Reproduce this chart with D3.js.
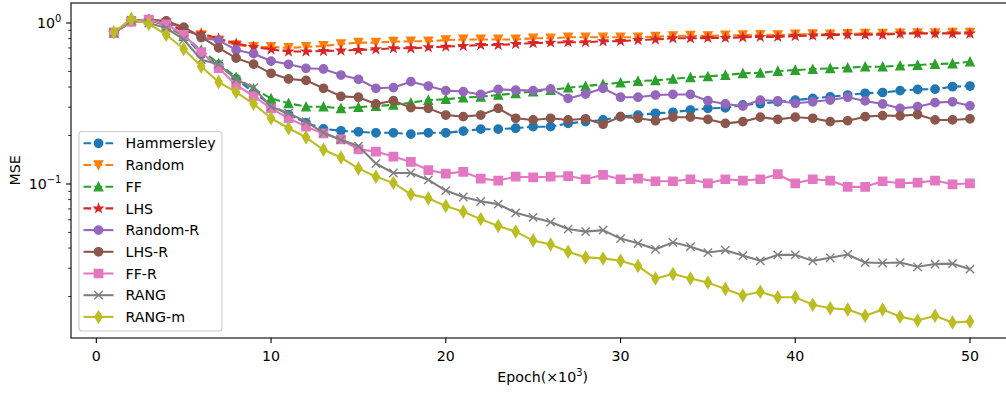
<!DOCTYPE html>
<html>
<head>
<meta charset="utf-8">
<script src="https://cdn.jsdelivr.net/npm/d3@7"></script>
<style>
  html, body { margin: 0; padding: 0; background: #fff; }
  svg { display: block; font-family: "DejaVu Sans", sans-serif; }
</style>
</head>
<body>
<svg id="chart" width="1006" height="393"></svg>
<script>
// Training epochs (×10^3)
const epochs = [1,2,3,4,5,6,7,8,9,10,11,12,13,14,15,16,17,18,19,20,
  21,22,23,24,25,26,27,28,29,30,31,32,33,34,35,36,37,38,39,40,
  41,42,43,44,45,46,47,48,49,50];

// MSE per sampling strategy
const hammersley = [0.87,1.03,1.05,0.97,0.84,0.64,0.55,0.45,0.37,0.31,
  0.27,0.24,0.22,0.214,0.211,0.208,0.208,0.204,0.208,0.208,
  0.213,0.219,0.219,0.222,0.227,0.227,0.238,0.244,0.25,0.262,
  0.268,0.275,0.279,0.288,0.295,0.297,0.31,0.315,0.324,0.332,
  0.34,0.348,0.357,0.366,0.37,0.38,0.387,0.388,0.402,0.406];
const random = [0.87,1.02,1.04,1.0,0.9,0.84,0.78,0.73,0.71,0.71,
  0.70,0.71,0.72,0.74,0.755,0.755,0.766,0.77,0.77,0.784,
  0.79,0.79,0.79,0.79,0.803,0.803,0.815,0.815,0.815,0.815,
  0.815,0.822,0.83,0.835,0.83,0.838,0.84,0.845,0.842,0.85,
  0.852,0.85,0.855,0.86,0.858,0.862,0.865,0.864,0.87,0.872];
const ff = [0.87,1.04,1.05,0.96,0.83,0.68,0.56,0.46,0.39,0.34,
  0.317,0.302,0.302,0.295,0.3,0.305,0.31,0.32,0.332,0.336,
  0.344,0.348,0.357,0.366,0.375,0.383,0.396,0.406,0.416,0.426,
  0.436,0.44,0.449,0.46,0.466,0.475,0.487,0.49,0.503,0.51,
  0.517,0.523,0.528,0.535,0.535,0.543,0.548,0.556,0.56,0.575];
const lhs = [0.87,1.02,1.03,1.0,0.89,0.86,0.80,0.745,0.71,0.685,
  0.665,0.665,0.67,0.675,0.68,0.686,0.696,0.696,0.706,0.713,
  0.72,0.73,0.73,0.74,0.75,0.755,0.76,0.76,0.77,0.772,
  0.784,0.79,0.803,0.803,0.808,0.808,0.815,0.82,0.82,0.83,
  0.836,0.842,0.845,0.845,0.845,0.86,0.86,0.86,0.86,0.86];
const randomR = [0.87,1.02,1.05,1.0,0.94,0.81,0.78,0.68,0.645,0.58,
  0.554,0.523,0.518,0.475,0.447,0.393,0.397,0.432,0.406,0.38,
  0.375,0.36,0.387,0.383,0.38,0.39,0.34,0.362,0.393,0.346,
  0.346,0.357,0.36,0.36,0.329,0.314,0.305,0.332,0.328,0.317,
  0.324,0.332,0.346,0.328,0.314,0.295,0.302,0.32,0.324,0.306];
const lhsR = [0.87,1.02,1.05,1.03,0.94,0.82,0.70,0.605,0.555,0.487,
  0.449,0.44,0.393,0.35,0.346,0.314,0.329,0.298,0.295,0.268,
  0.262,0.268,0.295,0.256,0.25,0.256,0.25,0.254,0.235,0.262,
  0.256,0.247,0.26,0.26,0.252,0.238,0.244,0.26,0.252,0.26,
  0.256,0.244,0.247,0.262,0.266,0.265,0.27,0.25,0.25,0.254];
const ffR = [0.87,1.02,1.05,0.98,0.845,0.66,0.525,0.412,0.352,0.295,
  0.256,0.227,0.206,0.189,0.164,0.159,0.148,0.137,0.122,0.116,
  0.119,0.108,0.105,0.111,0.11,0.111,0.112,0.107,0.114,0.107,
  0.108,0.104,0.104,0.107,0.101,0.107,0.105,0.107,0.115,0.101,
  0.107,0.105,0.096,0.096,0.104,0.101,0.102,0.105,0.0996,0.101];
const rang = [0.87,1.04,1.0,0.93,0.79,0.592,0.555,0.445,0.396,0.302,
  0.275,0.244,0.208,0.188,0.172,0.134,0.117,0.117,0.106,0.091,
  0.083,0.078,0.075,0.0662,0.062,0.058,0.0525,0.0506,0.0517,0.0458,
  0.0428,0.0393,0.0434,0.0408,0.0375,0.0388,0.0359,0.0333,0.0363,0.0363,
  0.0333,0.0348,0.0365,0.0325,0.0323,0.0325,0.0306,0.0318,0.032,0.0296];
const rangM = [0.875,1.06,0.99,0.845,0.69,0.537,0.43,0.372,0.315,0.256,
  0.222,0.195,0.163,0.146,0.125,0.111,0.1016,0.0862,0.0815,0.0729,
  0.0672,0.0605,0.0548,0.0506,0.0445,0.0421,0.0379,0.035,0.0345,0.0334,
  0.0309,0.0259,0.0276,0.0259,0.0244,0.0223,0.0203,0.0214,0.0198,0.0198,
  0.0178,0.0169,0.0166,0.0152,0.0166,0.015,0.0142,0.0152,0.0138,0.014];

const seriesNames = ["Hammersley","Random","FF","LHS","Random-R","LHS-R","FF-R","RANG","RANG-m"];
const seriesValues = [hammersley, random, ff, lhs, randomR, lhsR, ffR, rang, rangM];
const seriesColors = ["#1f77b4","#ff7f0e","#2ca02c","#d62728","#9467bd","#8c564b","#e377c2","#7f7f7f","#bcbd22"];
const seriesMarkers = ["circle","triDown","triUp","star","circle","circle","square","cross","thinDiamond"];
const seriesDashed = [true,true,true,true,false,false,false,false,false];

const xTicks = [0,10,20,30,40,50];
const yMajorTicks = [1, 0.1];
const yMajorLabels = [["10","0"],["10","\u22121"]];
const yMinorTicks = [0.02,0.03,0.04,0.05,0.06,0.07,0.08,0.09,0.2,0.3,0.4,0.5,0.6,0.7,0.8,0.9];

// ---- layout ----
const plot = { left: 71, right: 1012.8, top: 3, bottom: 338 };
const xDomain = [-1.45, 52.45];
const yDomain = [0.01105, 1.331];
const FS = 14.2;          // base text size
const LW = 2.08;          // line width
const MS = 8.33;          // marker size
const MEW = 1.39;         // marker edge width

const svg = d3.select("#chart");
svg.append("rect").attr("width", 1006).attr("height", 393).attr("fill", "#fff");

const x = d3.scaleLinear().domain(xDomain).range([plot.left, plot.right]);
const y = d3.scaleLog().domain(yDomain).range([plot.bottom, plot.top]);

// marker path generators (centred at 0,0)
function markerPath(kind) {
  const h = MS / 2;
  switch (kind) {
    case "circle": {
      return `M${h},0A${h},${h} 0 1,1 ${-h},0A${h},${h} 0 1,1 ${h},0Z`;
    }
    case "triDown": return `M0,${h}L${-h},${-h}L${h},${-h}Z`;
    case "triUp": return `M0,${-h}L${-h},${h}L${h},${h}Z`;
    case "square": return `M${-h},${-h}H${h}V${h}H${-h}Z`;
    case "thinDiamond": {
      const dy = Math.SQRT2 * h, dx = 0.6 * dy;
      return `M0,${-dy}L${dx},0L0,${dy}L${-dx},0Z`;
    }
    case "star": {
      const ro = h, ri = h * 0.381966;
      let p = "";
      for (let i = 0; i < 10; i++) {
        const r = i % 2 === 0 ? ro : ri;
        const a = -Math.PI / 2 + i * Math.PI / 5;
        p += (i === 0 ? "M" : "L") + (r * Math.cos(a)).toFixed(3) + "," + (r * Math.sin(a)).toFixed(3);
      }
      return p + "Z";
    }
    case "cross": return `M${-h},${-h}L${h},${h}M${-h},${h}L${h},${-h}`;
  }
}

function drawMarker(g, kind, color, cx, cy) {
  const p = g.append("path")
    .attr("d", markerPath(kind))
    .attr("transform", `translate(${cx},${cy})`)
    .attr("stroke", color)
    .attr("stroke-width", MEW)
    .attr("stroke-linejoin", "miter");
  p.attr("fill", kind === "cross" ? "none" : color);
}

// clip for data lines
svg.append("defs").append("clipPath").attr("id", "plotClip")
  .append("rect").attr("x", plot.left).attr("y", plot.top)
  .attr("width", plot.right - plot.left).attr("height", plot.bottom - plot.top);

const dataLayer = svg.append("g");
const line = d3.line().x((d, i) => x(epochs[i])).y(d => y(d));

seriesValues.forEach((vals, si) => {
  const g = dataLayer.append("g");
  g.append("path")
    .attr("d", line(vals))
    .attr("fill", "none")
    .attr("stroke", seriesColors[si])
    .attr("stroke-width", LW)
    .attr("stroke-linejoin", "round")
    .attr("stroke-linecap", seriesDashed[si] ? "butt" : "square")
    .attr("stroke-dasharray", seriesDashed[si] ? "7.7,3.3" : null)
    .attr("clip-path", "url(#plotClip)");
  vals.forEach((v, i) => drawMarker(g, seriesMarkers[si], seriesColors[si], x(epochs[i]), y(v)));
});

// ---- axes ----
const axes = svg.append("g");
// x ticks
xTicks.forEach(t => {
  axes.append("line").attr("x1", x(t)).attr("x2", x(t))
    .attr("y1", plot.bottom).attr("y2", plot.bottom + 4.9)
    .attr("stroke", "#000").attr("stroke-width", 1.1);
  axes.append("text").attr("x", x(t)).attr("y", plot.bottom + 22.5)
    .attr("text-anchor", "middle").attr("font-size", FS).attr("fill", "#000")
    .text(t);
});
// y major ticks
yMajorTicks.forEach((t, i) => {
  axes.append("line").attr("x1", plot.left - 4.9).attr("x2", plot.left)
    .attr("y1", y(t)).attr("y2", y(t))
    .attr("stroke", "#000").attr("stroke-width", 1.1);
  const txt = axes.append("text").attr("x", plot.left - 9.6).attr("y", y(t) + 4.8)
    .attr("text-anchor", "end").attr("font-size", FS).attr("fill", "#000");
  txt.append("tspan").text(yMajorLabels[i][0]);
  txt.append("tspan").attr("font-size", FS * 0.7).attr("dy", -5.8).text(yMajorLabels[i][1]);
});
// y minor ticks
yMinorTicks.forEach(t => {
  axes.append("line").attr("x1", plot.left - 2.8).attr("x2", plot.left)
    .attr("y1", y(t)).attr("y2", y(t))
    .attr("stroke", "#000").attr("stroke-width", 0.83);
});
// spines
axes.append("rect")
  .attr("x", plot.left).attr("y", plot.top)
  .attr("width", plot.right - plot.left).attr("height", plot.bottom - plot.top)
  .attr("fill", "none").attr("stroke", "#000").attr("stroke-width", 1.1);

// axis labels
const xl = axes.append("text").attr("x", (x(0) + x(50)) / 2 + 9.5).attr("y", 382)
  .attr("text-anchor", "middle").attr("font-size", FS).attr("fill", "#000");
xl.append("tspan").text("Epoch(\u00d710");
xl.append("tspan").attr("font-size", FS * 0.7).attr("dy", -5.8).text("3");
xl.append("tspan").attr("dy", 5.8).text(")");

axes.append("text")
  .attr("transform", `translate(20,${(plot.top + plot.bottom) / 2}) rotate(-90)`)
  .attr("text-anchor", "middle").attr("font-size", FS).attr("fill", "#000")
  .text("MSE");

// ---- legend ----
const legend = svg.append("g");
const lg = { x: 79, y: 131.5, w: 143, h: 199.5, row0: 143.3, step: 21.7 };
legend.append("rect")
  .attr("x", lg.x).attr("y", lg.y).attr("width", lg.w).attr("height", lg.h)
  .attr("rx", 3).attr("ry", 3)
  .attr("fill", "#fff").attr("fill-opacity", 0.8)
  .attr("stroke", "#cccccc").attr("stroke-width", 1.1);
seriesNames.forEach((name, si) => {
  const cy = lg.row0 + si * lg.step;
  const g = legend.append("g");
  g.append("line").attr("x1", 83.5).attr("x2", 113.5).attr("y1", cy).attr("y2", cy)
    .attr("stroke", seriesColors[si]).attr("stroke-width", LW)
    .attr("stroke-dasharray", seriesDashed[si] ? "7.7,3.3" : null);
  drawMarker(g, seriesMarkers[si], seriesColors[si], 98.5, cy);
  g.append("text").attr("x", 125.5).attr("y", cy + 5.1)
    .attr("font-size", FS).attr("fill", "#000").text(name);
});
</script>
</body>
</html>
